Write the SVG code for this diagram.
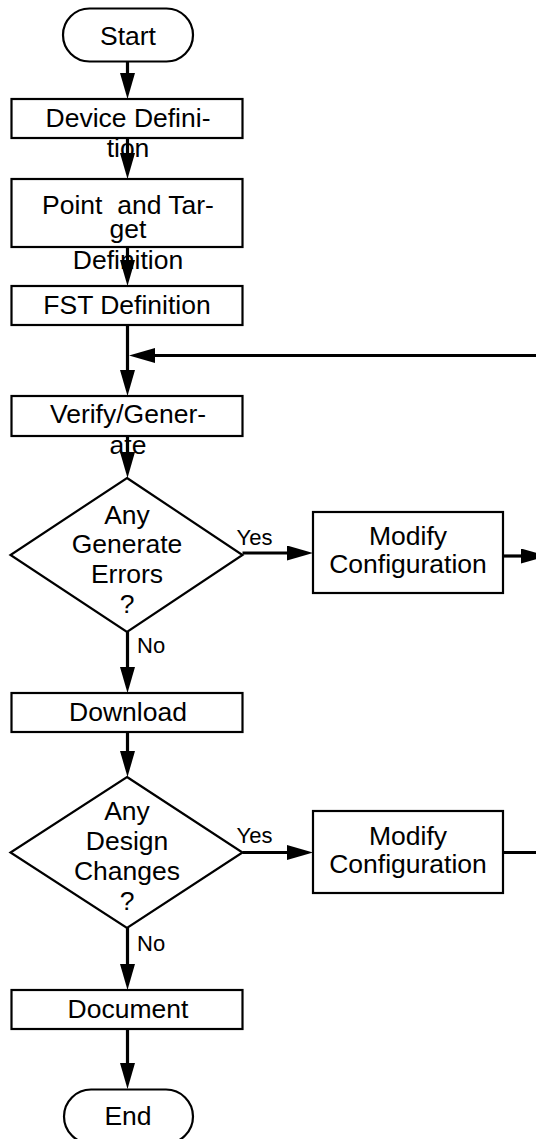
<svg xmlns="http://www.w3.org/2000/svg" width="536" height="1139" viewBox="0 0 536 1139">
  <defs>
    <style>
      .box { fill: #fff; stroke: #000; stroke-width: 2.2; }
      .lbl { font-family: "Liberation Sans", Arial, sans-serif; font-size: 26.5px; fill: #000; text-anchor: middle; }
      .tag { font-family: "Liberation Sans", Arial, sans-serif; font-size: 22px; fill: #000; }
      .wire { fill: none; stroke: #000; stroke-width: 3.2; }
    </style>
    <!-- filled arrowhead; tip sits 20 units past the end of the path -->
    <marker id="head" markerUnits="userSpaceOnUse" viewBox="0 0 26 15" refX="6" refY="7.5" markerWidth="26" markerHeight="15" orient="auto">
      <path d="M0,0 L26,7.5 L0,15 Z" fill="#000"/>
    </marker>
  </defs>

  <rect width="536" height="1139" fill="#fff"/>

  <g id="nodes">
    <g id="start">
      <rect class="box" x="63" y="8.5" width="130" height="53" rx="26.5"/>
      <text class="lbl" x="128" y="45">Start</text>
    </g>
    <g id="device">
      <rect class="box" x="11.5" y="99" width="231" height="39"/>
      <text class="lbl" x="128" y="127">Device Defini-</text>
      <text class="lbl" x="128" y="157">tion</text>
    </g>
    <g id="point-target">
      <rect class="box" x="11.5" y="179" width="231" height="68"/>
      <text class="lbl" x="128" y="214" xml:space="preserve">Point  and Tar-</text>
      <text class="lbl" x="128" y="238">get</text>
      <text class="lbl" x="128" y="269">Definition</text>
    </g>
    <g id="fst">
      <rect class="box" x="11.5" y="286" width="231" height="39"/>
      <text class="lbl" x="127" y="314">FST Definition</text>
    </g>
    <g id="verify">
      <rect class="box" x="11.5" y="396" width="231" height="40"/>
      <text class="lbl" x="128" y="423">Verify/Gener-</text>
      <text class="lbl" x="128" y="454">ate</text>
    </g>
    <g id="errors-check">
      <polygon class="box" points="127,478 242.5,555 127,632 10.5,555"/>
      <text class="lbl" x="127" y="524">Any</text>
      <text class="lbl" x="127" y="553">Generate</text>
      <text class="lbl" x="127" y="583">Errors</text>
      <text class="lbl" x="127" y="613">?</text>
    </g>
    <g id="modify-1">
      <rect class="box" x="313" y="512" width="190" height="81"/>
      <text class="lbl" x="408" y="545">Modify</text>
      <text class="lbl" x="408" y="573">Configuration</text>
    </g>
    <g id="download">
      <rect class="box" x="11.5" y="693" width="231" height="39"/>
      <text class="lbl" x="128" y="721">Download</text>
    </g>
    <g id="changes-check">
      <polygon class="box" points="127,777 242.5,852.5 127,928 10.5,852.5"/>
      <text class="lbl" x="127" y="820">Any</text>
      <text class="lbl" x="127" y="850">Design</text>
      <text class="lbl" x="127" y="880">Changes</text>
      <text class="lbl" x="127" y="910">?</text>
    </g>
    <g id="modify-2">
      <rect class="box" x="313" y="811" width="190" height="82"/>
      <text class="lbl" x="408" y="844.5">Modify</text>
      <text class="lbl" x="408" y="872.5">Configuration</text>
    </g>
    <g id="document">
      <rect class="box" x="11.5" y="990" width="231" height="39"/>
      <text class="lbl" x="128" y="1018">Document</text>
    </g>
    <g id="end">
      <rect class="box" x="64" y="1089.5" width="129" height="54" rx="27"/>
      <text class="lbl" x="128" y="1125">End</text>
    </g>
  </g>

  <g id="connectors">
    <path class="wire" d="M127.5,62 V79" marker-end="url(#head)"/>
    <path class="wire" d="M127.5,138 V159" marker-end="url(#head)"/>
    <path class="wire" d="M127.5,247 V266" marker-end="url(#head)"/>
    <path class="wire" d="M127.5,325 V376" marker-end="url(#head)"/>
    <path class="wire" d="M536,355.5 H149" marker-end="url(#head)"/>
    <path class="wire" d="M127.5,436 V458" marker-end="url(#head)"/>
    <path class="wire" d="M242.5,553 H293" marker-end="url(#head)"/>
    <path class="wire" d="M503,556 H527" marker-end="url(#head)"/>
    <path class="wire" d="M127.5,632 V673" marker-end="url(#head)"/>
    <path class="wire" d="M127.5,732 V757" marker-end="url(#head)"/>
    <path class="wire" d="M242.5,852.5 H293" marker-end="url(#head)"/>
    <path class="wire" d="M503,852.5 H536"/>
    <path class="wire" d="M127.5,928 V970" marker-end="url(#head)"/>
    <path class="wire" d="M127.5,1029 V1069" marker-end="url(#head)"/>
    <text class="tag" x="236.5" y="545">Yes</text>
    <text class="tag" x="137" y="653">No</text>
    <text class="tag" x="236.5" y="843">Yes</text>
    <text class="tag" x="137" y="951">No</text>
  </g>
</svg>
